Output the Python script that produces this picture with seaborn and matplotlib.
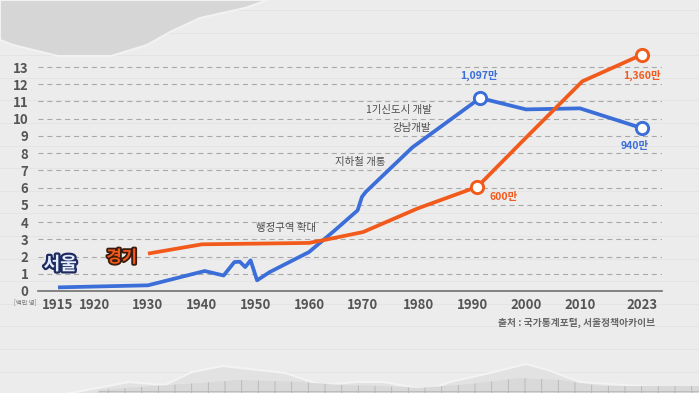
import numpy as np
import pandas as pd
import matplotlib
matplotlib.use("Agg")
import matplotlib.pyplot as plt
import matplotlib.patheffects as pe
from matplotlib.patches import Polygon
from matplotlib.lines import Line2D
import seaborn as sns

# 인구 (백만 명), 그림에서 읽은 값
seoul_years = [1915, 1930, 1940.5, 1944, 1946, 1947, 1948, 1949, 1950.2, 1952.6,
               1960, 1964.7, 1969, 1969.8, 1970.5, 1979, 1991.5, 2000, 2010, 2023]
seoul_pop = [0.21, 0.33, 1.16, 0.90, 1.68, 1.70, 1.39, 1.78, 0.62, 1.10,
             2.26, 3.50, 4.68, 5.46, 5.75, 8.34, 11.20, 10.54, 10.60, 9.45]
gyeonggi_years = [1930, 1940, 1960, 1962.5, 1970, 1980, 1991, 2000, 2010.5, 2023]
gyeonggi_pop = [2.17, 2.71, 2.79, 2.94, 3.42, 4.80, 6.05, 8.90, 12.17, 13.72]

tick_years = [1915, 1920, 1930, 1940, 1950, 1960, 1970, 1980, 1990, 2000, 2010, 2023]
tick_labels = [str(y) for y in tick_years]
y_ticks = list(range(0, 14))

seoul_mark_years = [1991.5, 2023]
seoul_mark_pop = [11.20, 9.45]
gyeonggi_mark_years = [1991, 2023]
gyeonggi_mark_pop = [6.05, 13.72]

BLUE = "#3b6ed8"
ORANGE = "#f25a1c"
GREY = "#555555"

# 가로축 눈금 간격이 일정하지 않아서 구간별 선형 스케일
scale_years = [1895, 1915, 1920, 1930, 1940, 1950, 1960, 1970, 1980, 1990, 2000, 2010, 2023, 2043]
scale_pos = [-88, 58, 94.5, 148, 202, 256, 309, 363, 418, 472, 526, 580, 642, 737]


def fwd(x):
    return np.interp(x, scale_years, scale_pos)


def inv(u):
    return np.interp(u, scale_pos, scale_years)


sns.set_style("white")
plt.rcParams["font.family"] = ["Noto Sans CJK KR", "DejaVu Sans"]
plt.rcParams["hatch.linewidth"] = 0.6

fig = plt.figure(figsize=(6.99, 3.93), dpi=100)
fig.patch.set_facecolor("#ececec")
W, H = 699, 393


def to_fig(pts):
    return [(x / W, 1 - y / H) for x, y in pts]


# 종이 배경
for yy in np.arange(10, 393, 22.6):
    fig.add_artist(Line2D([0, 1], [1 - yy / H, 1 - yy / H], color="#e1e1e1", lw=0.5, zorder=0))
top_torn = [(0, 0), (268, 0), (245, 8), (200, 18), (170, 32), (147, 45), (111, 56),
            (58, 56), (13, 45), (0, 40)]
fig.add_artist(Polygon(to_fig(top_torn), closed=True, facecolor="#d6d6d6",
                       edgecolor="#f2f2f2", lw=1.5, zorder=0))
bottom_torn = [(0, 400), (45, 398), (76, 392), (129, 382), (165, 385), (192, 372), (223, 366),
               (285, 373), (321, 385), (357, 382), (383, 382), (428, 390), (450, 382),
               (490, 373), (526, 364), (548, 370), (580, 382), (699, 390), (699, 400)]
fig.add_artist(Polygon(to_fig(bottom_torn), closed=True, facecolor="#e2e2e2",
                       edgecolor="#f3f3f3", lw=1.5, zorder=0))
grid_paper = [(0, 400), (90, 400), (100, 390), (140, 387), (200, 383), (240, 380),
              (300, 382), (340, 385), (380, 386), (420, 388), (470, 384), (520, 378),
              (560, 380), (600, 386), (699, 386), (699, 400)]
fig.add_artist(Polygon(to_fig(grid_paper), closed=True, facecolor="#d9d9d9",
                       edgecolor="#b5b5b5", lw=0, hatch="+", zorder=0))

ax = fig.add_axes([38 / W, 1 - 291 / H, 624 / W, 14.5 * 17.23 / H])
ax.set_facecolor("none")
ax.set_xscale("function", functions=(fwd, inv))

df = pd.concat([
    pd.DataFrame({"year": seoul_years, "pop": seoul_pop, "region": "서울"}),
    pd.DataFrame({"year": gyeonggi_years, "pop": gyeonggi_pop, "region": "경기"}),
])
sns.lineplot(data=df, x="year", y="pop", hue="region", palette={"서울": BLUE, "경기": ORANGE},
             lw=2.7, legend=False, ax=ax, zorder=3, solid_capstyle="butt")
sns.scatterplot(x=seoul_mark_years, y=seoul_mark_pop, s=78, color="white", edgecolor=BLUE,
                linewidth=2.1, ax=ax, zorder=4)
sns.scatterplot(x=gyeonggi_mark_years, y=gyeonggi_mark_pop, s=78, color="white",
                edgecolor=ORANGE, linewidth=2.1, ax=ax, zorder=4)

ax.set_xlim(inv(38), inv(662))
ax.set_ylim(0, 14.5)
ax.set_xticks(tick_years)
ax.set_xticklabels(tick_labels)
ax.set_yticks(y_ticks)
ax.xaxis.set_minor_locator(matplotlib.ticker.NullLocator())
ax.tick_params(length=0, labelsize=9.5, labelcolor=GREY)
ax.tick_params(axis="x", pad=5)
ax.tick_params(axis="y", pad=7)
for lab in ax.get_xticklabels() + ax.get_yticklabels():
    lab.set_fontweight("bold")
ax.grid(axis="y", linestyle=(0, (4.5, 3.5)), color="#a8a8a8", lw=0.8)
ax.grid(axis="x", visible=False)
ax.set_xlabel("")
ax.set_ylabel("")
for side in ["top", "right", "left"]:
    ax.spines[side].set_visible(False)
ax.spines["bottom"].set_color("#707070")
ax.spines["bottom"].set_linewidth(1.2)

# 사건 주석
note = dict(fontsize=7.5, color="#4d4d4d", fontweight="medium", va="center", zorder=5)
ax.text(1955.6, 3.64, "행정구역 확대", ha="center", **note)
ax.text(1969.4, 7.47, "지하철 개통", ha="center", **note)
ax.text(1982.6, 10.49, "1기신도시 개발", ha="right", **note)
ax.text(1982.4, 9.45, "강남개발", ha="right", **note)

# 값 라벨
val = dict(fontsize=7.5, fontweight="bold", ha="center", va="center", zorder=5)
ax.text(1991.3, 12.52, "1,097만", color=BLUE, **val)
ax.text(2021.5, 8.40, "940만", color=BLUE, **val)
ax.text(1995.9, 5.44, "600만", color=ORANGE, **val)
ax.text(2023, 12.52, "1,360만", color=ORANGE, **val)

# 지역 이름
ax.text(1915.3, 1.55, "서울", fontsize=13, fontweight="heavy", color="#e4ecff",
        ha="center", va="center", zorder=6,
        path_effects=[pe.withStroke(linewidth=3.2, foreground="#1e2b5e")])
ax.text(1925.1, 1.95, "경기", fontsize=12, fontweight="heavy", color=ORANGE,
        ha="center", va="center", zorder=6,
        path_effects=[pe.withStroke(linewidth=2.6, foreground="#3a1b0c")])

fig.text(25 / W, 1 - 302 / H, "[백만 명]", fontsize=4.5, color="#777777", ha="center",
         va="center")
fig.text(655 / W, 1 - 323 / H, "출처 : 국가통계포털, 서울정책아카이브", fontsize=7,
         color="#666666", ha="right", va="center", fontweight="bold")

fig.savefig("out.png", dpi=100, facecolor=fig.get_facecolor())
